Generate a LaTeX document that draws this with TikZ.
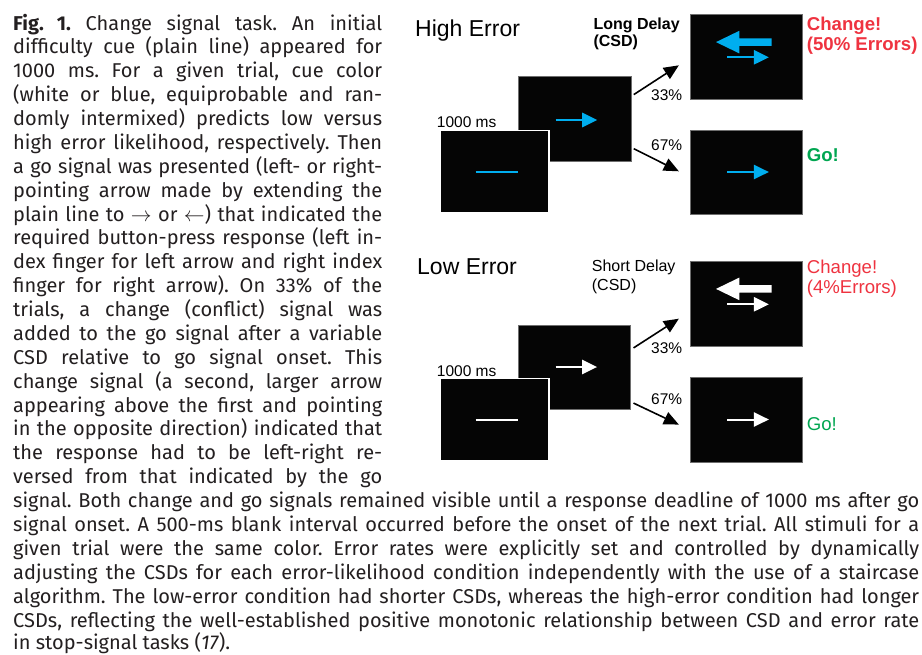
\documentclass[tikz,border=0pt]{standalone}
\usepackage{fontspec}
\setmainfont{Fira Sans}
\newfontfamily\hv{Liberation Sans}
\usetikzlibrary{arrows.meta}
\frenchspacing
\definecolor{stimblue}{RGB}{0,174,239}
\definecolor{chred}{RGB}{239,51,64}
\definecolor{gogreen}{RGB}{0,166,81}
\definecolor{capcol}{RGB}{35,31,32}
\definecolor{scr}{RGB}{5,5,5}
\definecolor{scredge}{RGB}{110,110,110}
\newcommand\Lcap[3]{\node[capt] (#1) at (13,#2) {\makebox[369pt][s]{#3}};}
\newcommand\Wcap[3]{\node[capt] (#1) at (13,#2) {\makebox[906pt][s]{#3}};}
% stimuli, drawn in a scope shifted to a screen centre
\newcommand\lineStim[1]{\draw[#1,line width=2pt] (-19,0.5) -- (23,0.5);}
\newcommand\goStim[2]{%
  \draw[#1,line width=2pt] (-19,#2) -- (8,#2);
  \fill[#1] (7.5,#2-7.4) -- (22.5,#2) -- (7.5,#2+7.4) -- cycle;}
\newcommand\bigLeft[2]{%
  \fill[#1] (-30.3,#2) -- (-7,#2-11.3) -- (-7,#2-3.8) -- (25.4,#2-3.8)
     -- (25.4,#2+3.8) -- (-7,#2+3.8) -- (-7,#2+11.3) -- cycle;}
\begin{document}
\begin{tikzpicture}[x=1pt,y=-1pt,
  capt/.style={inner sep=0pt, anchor=base west, text=capcol, font=\fontsize{20}{24}\selectfont},
  lab/.style={inner sep=0pt, anchor=base west, text=black, font=\hv\fontsize{15.5}{18}\selectfont},
  title/.style={inner sep=0pt, anchor=base west, text=black, font=\hv\fontsize{23}{26}\selectfont},
  delay/.style={inner sep=0pt, anchor=base west, text=black, align=left},
  outcome/.style={inner sep=0pt, anchor=base west, align=left},
  screen/.style={fill=scr, draw=scredge, line width=0.8pt, inner sep=0pt, minimum width=112.7pt, minimum height=85pt},
  cuescreen/.style={fill=scr, draw=white, line width=1.3pt, inner sep=0pt, minimum width=109pt, minimum height=82pt},
  conn/.style={line width=1.6pt, draw=black, -{Triangle[length=15pt,width=13pt]}},
]
\useasboundingbox[fill=white] (0,0) rectangle (922,654);

% ---------------- caption ----------------
\Lcap{c1}{30}{\textbf{Fig. 1.} Change signal task. An initial}
\Lcap{c2}{53.88}{difficulty cue (plain line) appeared for}
\Lcap{c3}{77.76}{1000 ms. For a given trial, cue color}
\Lcap{c4}{101.64}{(white or blue, equiprobable and ran-}
\Lcap{c5}{125.52}{domly intermixed) predicts low versus}
\Lcap{c6}{149.4}{high error likelihood, respectively. Then}
\Lcap{c7}{173.28}{a go signal was presented (left- or right-}
\Lcap{c8}{197.16}{pointing arrow made by extending the}
\Lcap{c9}{221.04}{plain line to $\rightarrow$ or $\leftarrow$) that indicated the}
\Lcap{c10}{244.92}{required button-press response (left in-}
\Lcap{c11}{268.8}{dex finger for left arrow and right index}
\Lcap{c12}{292.68}{finger for right arrow). On 33\% of the}
\Lcap{c13}{316.56}{trials, a change (conflict) signal was}
\Lcap{c14}{340.44}{added to the go signal after a variable}
\Lcap{c15}{364.32}{CSD relative to go signal onset. This}
\Lcap{c16}{388.2}{change signal (a second, larger arrow}
\Lcap{c17}{412.08}{appearing above the first and pointing}
\Lcap{c18}{435.96}{in the opposite direction) indicated that}
\Lcap{c19}{459.84}{the response had to be left-right re-}
\Lcap{c20}{483.72}{versed from that indicated by the go}
\Wcap{c21}{507.6}{signal. Both change and go signals remained visible until a response deadline of 1000 ms after go}
\Wcap{c22}{531.48}{signal onset. A 500-ms blank interval occurred before the onset of the next trial. All stimuli for a}
\Wcap{c23}{555.36}{given trial were the same color. Error rates were explicitly set and controlled by dynamically}
\Wcap{c24}{579.24}{adjusting the CSDs for each error-likelihood condition independently with the use of a staircase}
\Wcap{c25}{603.12}{algorithm. The low-error condition had shorter CSDs, whereas the high-error condition had longer}
\Wcap{c26}{627}{CSDs, reflecting the well-established positive monotonic relationship between CSD and error rate}
\node[capt] (c27) at (13,649.5) {in stop-signal tasks (\textit{17}).};

% ---------------- High Error ----------------
\node[title] (tHigh) at (415,36.7) {High Error};
\node[screen] (midH) at (574.7,119.2) {};
\node[cuescreen] (cueH) at (494.5,171.7) {};
\node[screen] (chgH) at (746.3,56.7) {};
\node[screen, minimum height=84pt] (goH) at (746.3,172) {};
\begin{scope}[shift={(cueH.center)}] \lineStim{stimblue} \end{scope}
\begin{scope}[shift={(midH.center)}] \goStim{stimblue}{0.8} \end{scope}
\begin{scope}[shift={(chgH.center)}] \bigLeft{stimblue}{-14.6} \goStim{stimblue}{0.6} \end{scope}
\begin{scope}[shift={(goH.center)}] \goStim{stimblue}{0} \end{scope}
\node[lab] (msH) at (436.7,127.3) {1000 ms};
\node[delay, font=\hv\bfseries\fontsize{16}{16.7}\selectfont] (dH) at (593.3,46) {Long Delay\\(CSD)};
\node[lab] (pH1) at (651,100) {33\%};
\node[lab] (pH2) at (651,150.7) {67\%};
\node[outcome, text=chred, font=\hv\bfseries\fontsize{18.6}{20.3}\selectfont] (oH1) at (806.7,50.7) {Change!\\(50\% Errors)};
\node[outcome, text=gogreen, font=\hv\bfseries\fontsize{18.6}{20}\selectfont] (oH2) at (806.7,161.7) {Go!};
\draw[conn] ([shift={(2.3,18.3)}]midH.north east) -- ([shift={(-10.7,-34.3)}]chgH.south west);
\draw[conn] ([shift={(2.3,-13.4)}]midH.south east) -- ([shift={(-10.7,41.7)}]goH.north west);

% ---------------- Low Error ----------------
\node[title] (tLow) at (417,274) {Low Error};
\node[screen, minimum height=84pt] (midL) at (574.5,367) {};
\node[cuescreen] (cueL) at (494.5,419.5) {};
\node[screen] (chgL) at (746.3,304.2) {};
\node[screen] (goL) at (746.3,419.5) {};
\begin{scope}[shift={(cueL.center)}] \lineStim{white} \end{scope}
\begin{scope}[shift={(midL.center)}] \goStim{white}{0} \end{scope}
\begin{scope}[shift={(chgL.center)}] \bigLeft{white}{-15.3} \goStim{white}{0.1} \end{scope}
\begin{scope}[shift={(goL.center)}] \goStim{white}{0} \end{scope}
\node[lab] (msL) at (436.7,376.7) {1000 ms};
\node[delay, font=\hv\fontsize{16}{18.3}\selectfont] (dL) at (591.7,290) {Short Delay\\(CSD)};
\node[lab] (pL1) at (651,353.3) {33\%};
\node[lab] (pL2) at (651,404) {67\%};
\node[outcome, text=chred, font=\hv\fontsize{18.6}{20}\selectfont] (oL1) at (806.7,293.3) {Change!\\(4\%Errors)};
\node[outcome, text=gogreen, font=\hv\fontsize{18.6}{20}\selectfont] (oL2) at (806.7,430.7) {Go!};
\draw[conn] ([shift={(2.3,23.3)}]midL.north east) -- ([shift={(-10.7,-28.4)}]chgL.south west);
\draw[conn] ([shift={(2.3,-6.3)}]midL.south east) -- ([shift={(-10.7,48)}]goL.north west);
\end{tikzpicture}
\end{document}
